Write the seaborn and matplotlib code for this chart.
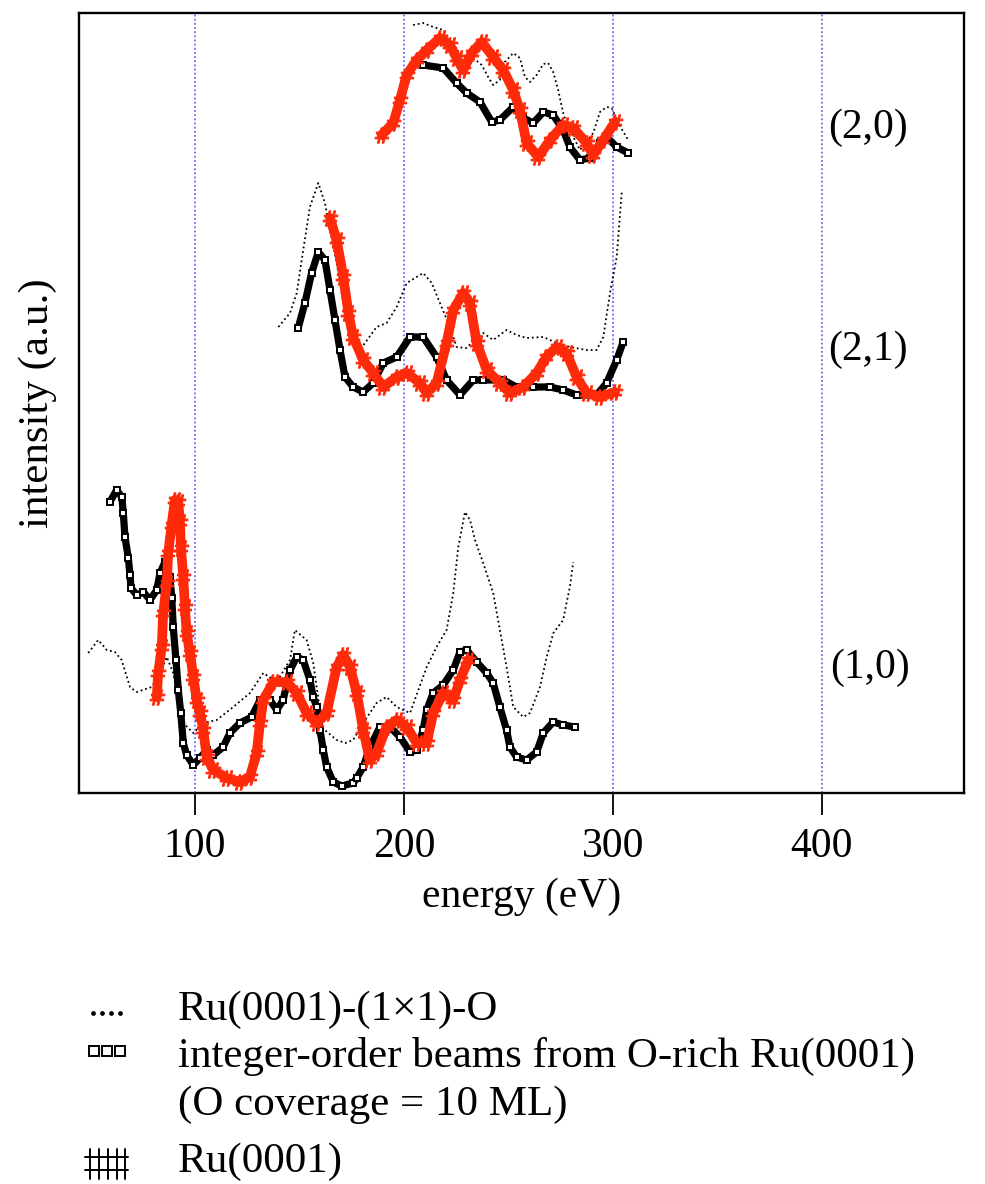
import matplotlib
matplotlib.use("Agg")
import matplotlib.pyplot as plt
import seaborn as sns
import pandas as pd
from matplotlib.lines import Line2D

# ---------------- data (energy in eV, intensity in arbitrary units) ----------------
# (2,0) beam
e_20_dot = [204.4, 209.2, 214.0, 218.8, 223.4, 228.4, 233.2, 237.2, 240.3, 242.7, 245.9, 248.3, 252.3, 255.5,
            257.9, 260.3, 263.5, 266.7, 269.0, 271.4, 273.8, 276.2, 277.8, 284.2, 290.6, 293.8, 297.0, 299.4,
            302.5, 307.3]
i_20_dot = [768, 770, 766, 763, 748, 736, 735, 728, 716, 708, 713, 731, 740, 735,
            716, 711, 718, 729, 730, 721, 703, 680, 670, 643, 660, 681, 686, 685,
            670, 653]
e_20_sq = [209.2, 218.8, 225.2, 230.0, 236.4, 242.0, 245.9, 252.3, 257.1, 261.9, 266.7, 271.4, 276.2, 279.4,
           284.2, 289.0, 293.8, 297.0, 301.8, 307.3]
i_20_sq = [728, 725, 710, 700, 691, 671, 673, 686, 675, 670, 681, 678, 663, 646,
           633, 635, 650, 656, 646, 640]
e_20_ru = [189.3, 194.9, 198.1, 201.3, 206.1, 210.9, 217.2, 222.0, 225.2, 228.4, 232.4, 237.2, 242.7, 247.5,
           252.3, 255.5, 258.7, 264.3, 269.9, 276.2, 281.0, 287.4, 290.6, 295.4, 301.0]
i_20_ru = [658, 670, 693, 718, 733, 743, 755, 748, 735, 723, 740, 751, 736, 723,
           703, 683, 650, 636, 653, 668, 665, 650, 638, 653, 671]

# (2,1) beam
e_21_dot = [139.9, 145.5, 148.7, 151.8, 155.0, 159.0, 162.2, 164.6, 167.8, 171.0, 174.2, 178.9, 186.9, 191.7,
            196.5, 201.3, 209.2, 213.3, 218.0, 222.0, 225.2, 230.0, 234.8, 237.9, 242.7, 249.1, 253.9, 258.7,
            266.7, 273.1, 279.4, 287.4, 292.2, 295.4, 298.6, 301.8, 303.3, 304.3]
i_21_dot = [466, 480, 500, 543, 586, 610, 590, 563, 530, 490, 450, 443, 466, 470,
            486, 510, 520, 510, 486, 466, 446, 445, 456, 460, 453, 463, 458, 455,
            456, 450, 446, 443, 443, 456, 500, 536, 576, 603]
e_21_sq = [149.4, 152.6, 155.8, 159.0, 162.2, 164.6, 167.0, 169.4, 171.8, 175.7, 180.5, 185.3, 190.1, 196.5,
           202.9, 209.2, 215.6, 220.4, 226.8, 233.2, 237.9, 247.5, 253.9, 261.9, 269.9, 276.2, 282.6, 292.2,
           297.0, 301.8, 304.9]
i_21_sq = [465, 490, 520, 541, 533, 503, 473, 443, 416, 406, 401, 410, 430, 436,
           456, 456, 436, 413, 398, 413, 413, 413, 406, 406, 406, 403, 398, 398,
           410, 433, 451]
e_21_ru = [164.6, 167.8, 171.0, 173.4, 175.7, 180.5, 185.3, 190.1, 196.5, 201.3, 207.7, 210.9, 215.6, 220.4,
           223.6, 228.4, 231.6, 234.8, 239.6, 245.9, 250.7, 257.1, 263.5, 268.2, 273.1, 277.8, 282.6, 287.4,
           293.8, 301.0]
i_21_ru = [575, 553, 516, 480, 456, 433, 420, 406, 416, 420, 410, 400, 410, 450,
           483, 500, 490, 450, 423, 410, 400, 406, 420, 436, 446, 440, 416, 400,
           396, 401]

# (1,0) beam
e_10_dot = [48.9, 53.7, 57.8, 61.7, 64.9, 68.9, 72.1, 79.3, 83.3, 86.5, 89.6, 94.4, 99.2, 104.0,
            110.4, 118.3, 126.3, 132.7, 139.1, 145.5, 147.8, 153.4, 156.6, 161.0, 167.8, 172.0, 175.7, 180.5,
            186.9, 191.7, 196.5, 202.9, 210.9, 215.6, 220.4, 223.6, 226.0, 229.2, 231.6, 234.0, 237.9, 242.7,
            245.9, 249.1, 252.3, 257.1, 260.3, 265.1, 268.3, 271.5, 276.2, 277.8, 279.4, 281.0]
i_10_dot = [140, 153, 143, 141, 133, 106, 101, 106, 120, 136, 120, 70, 60, 70,
            73, 86, 100, 120, 111, 133, 163, 153, 130, 65, 53, 50, 53, 70,
            90, 96, 86, 80, 126, 146, 163, 200, 246, 281, 273, 253, 230, 200,
            163, 126, 86, 76, 80, 106, 136, 160, 173, 190, 206, 231]
e_10_sq = [59.3, 62.5, 65.0, 65.7, 66.5, 68.1, 68.9, 69.4, 72.1, 75.3, 78.5, 81.7, 83.3, 85.6,
           88.0, 88.9, 89.6, 90.9, 92.0, 93.2, 94.4, 96.0, 99.2, 102.4, 105.6, 108.8, 113.5, 116.7,
           121.5, 127.1, 131.1, 135.9, 139.1, 142.2, 145.5, 148.7, 151.8, 155.0, 156.6, 158.2, 159.8, 161.4,
           163.0, 166.2, 170.2, 175.7, 177.4, 180.5, 183.7, 188.5, 193.3, 198.1, 202.9, 206.1, 209.2, 210.9,
           214.0, 218.8, 223.6, 226.8, 230.0, 234.8, 239.6, 242.7, 245.9, 249.1, 250.7, 253.9, 258.7, 263.5,
           266.7, 271.4, 276.2, 281.8]
i_10_sq = [291, 303, 296, 280, 256, 235, 218, 205, 198, 201, 193, 203, 220, 231,
           216, 195, 166, 133, 103, 80, 50, 38, 28, 35, 43, 38, 46, 60,
           70, 76, 93, 93, 83, 93, 123, 136, 133, 113, 96, 86, 63, 43,
           26, 11, 7, 10, 15, 26, 46, 66, 66, 56, 41, 43, 63, 83,
           100, 108, 123, 141, 143, 131, 120, 110, 86, 63, 46, 36, 33, 41,
           60, 71, 68, 66]
e_10_ru = [81.7, 82.4, 84.1, 84.8, 86.5, 87.2, 88.8, 90.4, 92.0, 92.8, 93.3, 94.4, 95.2, 96.0,
           97.6, 99.2, 100.8, 102.4, 104.0, 105.6, 108.8, 115.2, 121.5, 126.3, 129.5, 131.1, 132.7, 137.5,
           143.9, 148.7, 153.4, 158.2, 163.0, 167.8, 171.0, 174.2, 177.4, 180.5, 183.7, 186.9, 191.7, 196.5,
           201.3, 206.1, 210.9, 214.0, 218.8, 223.6, 226.8, 230.8]
i_10_ru = [96, 120, 146, 180, 210, 240, 268, 293, 291, 271, 245, 216, 186, 160,
           140, 116, 93, 80, 63, 36, 23, 15, 11, 16, 40, 70, 93, 111,
           111, 100, 80, 70, 80, 126, 138, 126, 100, 63, 33, 40, 66, 73,
           66, 50, 50, 80, 100, 93, 113, 133]

beam_labels = ["(2,0)", "(2,1)", "(1,0)"]
beam_label_e = [403, 403, 404]
beam_label_i = [665, 443, 125]

legend_texts = ["Ru(0001)-(1\u00d71)-O",
                "integer-order beams from O-rich Ru(0001)",
                "(O coverage = 10 ML)",
                "Ru(0001)"]

x_ticks = [100, 200, 300, 400]
x_label = "energy (eV)"
y_label = "intensity (a.u.)"

RED = "#ff2a0a"
BLUE_GRID = "#6a6aff"

# ---------------- figure ----------------
sns.set_style("white")
plt.rcParams["font.family"] = ["Liberation Serif", "DejaVu Serif"]
plt.rcParams["text.color"] = "black"
plt.rcParams["axes.labelcolor"] = "black"
plt.rcParams["xtick.color"] = "black"
plt.rcParams["xtick.labelcolor"] = "black"

W, H = 985, 1184
fig = plt.figure(figsize=(W / 100, H / 100), dpi=100)
ax = fig.add_axes([79 / W, 1 - 793 / H, (964 - 79) / W, (793 - 13) / H])

dot_kw = dict(color="black", linewidth=1.3, linestyle=(0, (1, 1.6)))
sq_kw = dict(color="black", linewidth=5.2, marker="s", markersize=4.6,
             markerfacecolor="white", markeredgecolor="black", mew=1.4)
ru_kw = dict(color=RED, linewidth=7.0, marker="$\\#$", markersize=11,
             markerfacecolor=RED, markeredgecolor=RED, mew=0.8)

curves = [
    (e_10_dot, i_10_dot, dot_kw, 3), (e_21_dot, i_21_dot, dot_kw, 3), (e_20_dot, i_20_dot, dot_kw, 3),
    (e_10_sq, i_10_sq, sq_kw, 4), (e_21_sq, i_21_sq, sq_kw, 4), (e_20_sq, i_20_sq, sq_kw, 4),
    (e_10_ru, i_10_ru, ru_kw, 5), (e_21_ru, i_21_ru, ru_kw, 5), (e_20_ru, i_20_ru, ru_kw, 5),
]
for e, i, kw, z in curves:
    df = pd.DataFrame({"energy": e, "intensity": i})
    sns.lineplot(data=df, x="energy", y="intensity", sort=False, estimator=None,
                 ax=ax, zorder=z, **kw)

ax.set_xlim(44.5, 468)
ax.set_ylim(0, 780)
ax.set_xticks(x_ticks)
ax.set_xticklabels([str(t) for t in x_ticks])
ax.set_yticks([])
ax.grid(False)
for t in x_ticks:
    ax.axvline(t, color=BLUE_GRID, linestyle=(0, (1, 1.3)), linewidth=1.3, zorder=1)

for s in ax.spines.values():
    s.set_visible(True)
    s.set_color("black")
    s.set_linewidth(1.7)

ax.tick_params(axis="x", direction="out", length=16, width=1.3, color="black",
               pad=9, labelsize=30, labelcolor="black", bottom=True, top=False)
ax.set_xlabel(x_label, fontsize=30, labelpad=8, color="black")
ax.set_ylabel(y_label, fontsize=31, labelpad=16, color="black")

for lab, le, li in zip(beam_labels, beam_label_e, beam_label_i):
    ax.text(le, li, lab, fontsize=30, ha="left", va="center", color="black")

# ---------------- legend (figure-level) ----------------
def fy(py):
    return 1 - py / H

def fx(px):
    return px / W

fig.text(fx(178), fy(1010), legend_texts[0], fontsize=31, va="center", ha="left", color="black")
fig.text(fx(178), fy(1056), legend_texts[1], fontsize=31, va="center", ha="left", color="black")
fig.text(fx(178), fy(1105), legend_texts[2], fontsize=31, va="center", ha="left", color="black")
fig.text(fx(178), fy(1162), legend_texts[3], fontsize=31, va="center", ha="left", color="black")

fig.add_artist(Line2D([fx(93), fx(102), fx(111), fx(120)], [fy(1013)] * 4, linestyle="none",
                      marker="o", markersize=2.4, color="black", transform=fig.transFigure))
fig.add_artist(Line2D([fx(94), fx(107), fx(120)], [fy(1051)] * 3, linestyle="none",
                      marker="s", markersize=7.2, markerfacecolor="white", markeredgecolor="black",
                      mew=1.4, transform=fig.transFigure))
fig.add_artist(Line2D([fx(85), fx(128)], [fy(1157)] * 2, color="black", linewidth=1.4,
                      transform=fig.transFigure))
fig.add_artist(Line2D([fx(85), fx(128)], [fy(1170)] * 2, color="black", linewidth=1.4,
                      transform=fig.transFigure))
for vx in [90, 99, 108, 117, 125]:
    fig.add_artist(Line2D([fx(vx), fx(vx)], [fy(1149), fy(1179)], color="black", linewidth=1.4,
                          transform=fig.transFigure))

fig.savefig("out.png", dpi=100)
